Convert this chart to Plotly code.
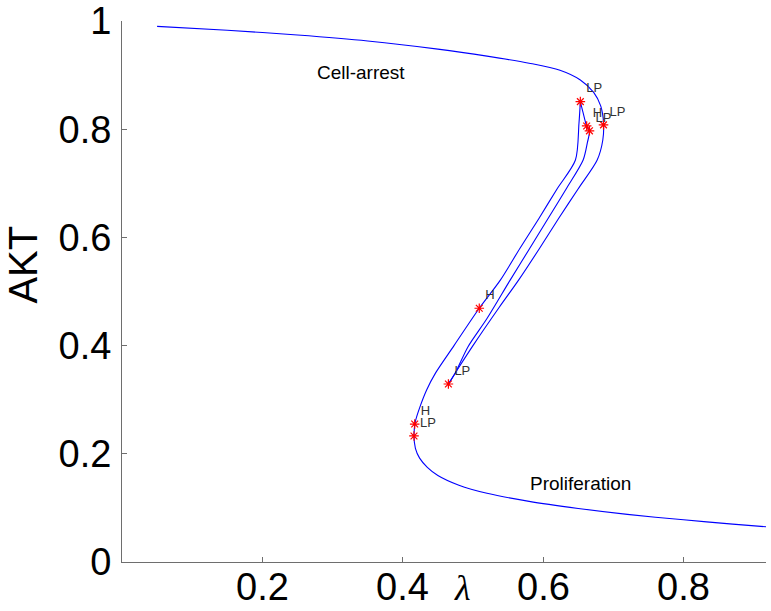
import plotly.graph_objects as go

# Branch 1: upper stable branch, right fold, down to lower-middle fold
b1_lam = [0.05, 0.15, 0.25, 0.35, 0.45, 0.52, 0.58, 0.624, 0.653, 0.672, 0.682, 0.686, 0.685, 0.677, 0.650, 0.622, 0.595, 0.565, 0.537, 0.50, 0.48, 0.465]
b1_akt = [0.99, 0.983, 0.974, 0.963, 0.948, 0.935, 0.922, 0.909, 0.891, 0.868, 0.843, 0.812, 0.78, 0.743, 0.69, 0.635, 0.58, 0.521, 0.47, 0.40, 0.36, 0.329]

# Branch 2: from lower-middle fold back up to the cluster and top fold
b2_lam = [0.465, 0.475, 0.493, 0.52, 0.553, 0.581, 0.607, 0.633, 0.657, 0.663, 0.666, 0.662, 0.657, 0.653]
b2_akt = [0.329, 0.35, 0.398, 0.45, 0.521, 0.58, 0.635, 0.69, 0.743, 0.775, 0.797, 0.806, 0.83, 0.851]

# Branch 3: from top fold down through H, lower fold, lower stable branch
b3_lam = [0.653, 0.651, 0.646, 0.620, 0.594, 0.567, 0.539, 0.509, 0.473, 0.447, 0.434, 0.424, 0.418, 0.416, 0.418, 0.424, 0.435, 0.45, 0.48, 0.52, 0.58, 0.65, 0.72, 0.80, 0.87, 0.918]
b3_akt = [0.851, 0.81, 0.743, 0.69, 0.635, 0.58, 0.521, 0.469, 0.40, 0.35, 0.318, 0.285, 0.26, 0.235, 0.21, 0.192, 0.175, 0.16, 0.142, 0.127, 0.112, 0.099, 0.088, 0.078, 0.07, 0.065]

# Special points
pt_lam = [0.653, 0.662, 0.666, 0.686, 0.509, 0.465, 0.417, 0.416]
pt_akt = [0.851, 0.806, 0.797, 0.808, 0.469, 0.329, 0.255, 0.233]
pt_lab = ["LP", "H", "LP", "LP", "H", "LP", "H", "LP"]

x_ticks = [0.2, 0.4, 0.6, 0.8]
x_tick_text = ["0.2", "0.4", "0.6", "0.8"]
y_ticks = [0, 0.2, 0.4, 0.6, 0.8, 1]
y_tick_text = ["0", "0.2", "0.4", "0.6", "0.8", "1"]

AX = "#6e6e6e"
fig = go.Figure()
for lx, ly in [(b1_lam, b1_akt), (b2_lam, b2_akt), (b3_lam, b3_akt)]:
    fig.add_trace(go.Scatter(x=lx, y=ly, mode="lines",
                             line=dict(color="#0000ff", width=1.1, shape="spline", smoothing=0.8),
                             hoverinfo="skip", showlegend=False))

fig.add_trace(go.Scatter(x=pt_lam, y=pt_akt, mode="markers+text", text=pt_lab,
                         textposition="top right",
                         textfont=dict(family="Liberation Sans", size=13, color="#333333"),
                         marker=dict(symbol="asterisk-open", size=8, color="#ff0000",
                                     line=dict(color="#ff0000", width=1.2)),
                         showlegend=False))

fig.add_annotation(x=0.341, y=0.905, text="Cell-arrest", showarrow=False,
                   xanchor="center", yanchor="middle",
                   font=dict(family="Liberation Sans", size=19, color="black"))
fig.add_annotation(x=0.653, y=0.145, text="Proliferation", showarrow=False,
                   xanchor="center", yanchor="middle",
                   font=dict(family="Liberation Sans", size=19, color="black"))
fig.add_annotation(xref="paper", yref="paper", x=-0.1535, y=0.55, text="AKT",
                   textangle=-90, showarrow=False, xanchor="center", yanchor="middle",
                   font=dict(family="Liberation Sans", size=40, color="black"))
fig.add_annotation(x=0.485, yref="paper", y=-0.0887, text="<i>λ</i>", showarrow=False,
                   xanchor="center", yanchor="bottom",
                   font=dict(family="Liberation Serif", size=36, color="black"))
for v, t in zip(x_ticks, x_tick_text):
    fig.add_annotation(x=v, yref="paper", y=-0.0887, text=t, showarrow=False,
                       xanchor="center", yanchor="bottom",
                       font=dict(family="Liberation Sans", size=38, color="black"))

fig.update_layout(
    width=771, height=611,
    margin=dict(l=121.5, r=5, t=21, b=49),
    paper_bgcolor="white", plot_bgcolor="white",
    xaxis=dict(range=[0, 0.9175], tickvals=x_ticks, showticklabels=False, automargin=False,
               showgrid=False, zeroline=False, showline=True, linecolor=AX, linewidth=1,
               ticks="inside", ticklen=5, tickcolor=AX),
    yaxis=dict(range=[0, 1], tickvals=y_ticks, ticktext=y_tick_text, automargin=False,
               showgrid=False, zeroline=False, showline=True, linecolor=AX, linewidth=1,
               ticks="inside", ticklen=5, tickcolor=AX, ticklabelstandoff=2,
               ticklabeloverflow="allow",
               tickfont=dict(family="Liberation Sans", size=38, color="black")),
)

fig.write_html("out.html", config={"displayModeBar": False, "staticPlot": True},
               post_script="document.body.style.margin='0';document.body.style.overflow='hidden';")
